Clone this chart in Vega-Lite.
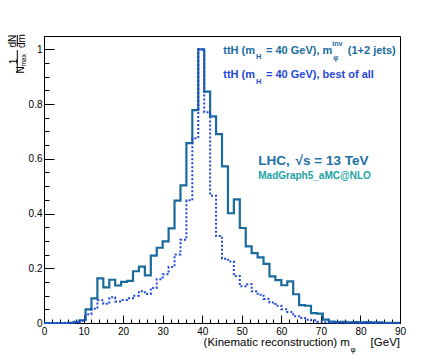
{
  "$schema": "https://vega.github.io/schema/vega-lite/v6.json",
  "width": 356,
  "height": 287,
  "autosize": "none",
  "padding": {"left": 44, "top": 36, "right": 46, "bottom": 37},
  "background": "white",
  "config": {
    "view": {"stroke": "black", "strokeWidth": 1},
    "axis": {"domainColor": "black", "tickColor": "black", "labelColor": "black", "labelFont": "Liberation Sans", "labelFontSize": 10, "grid": false, "title": null, "labelFlush": false, "labelOverlap": false}
  },
  "data": {
    "values": [
      {"m": 0, "comb": 0, "best": 0},
      {"m": 1.5, "comb": 0, "best": 0},
      {"m": 3, "comb": 0, "best": 0},
      {"m": 4.5, "comb": 0, "best": 0},
      {"m": 6, "comb": 0.001, "best": 0},
      {"m": 7.5, "comb": 0.004, "best": 0.002},
      {"m": 9, "comb": 0.01, "best": 0.008},
      {"m": 10.5, "comb": 0.05, "best": 0.032},
      {"m": 12, "comb": 0.09, "best": 0.052},
      {"m": 13.5, "comb": 0.163, "best": 0.083},
      {"m": 15, "comb": 0.13, "best": 0.07},
      {"m": 16.5, "comb": 0.158, "best": 0.094},
      {"m": 18, "comb": 0.137, "best": 0.079},
      {"m": 19.5, "comb": 0.15, "best": 0.084},
      {"m": 21, "comb": 0.154, "best": 0.09},
      {"m": 22.5, "comb": 0.189, "best": 0.1},
      {"m": 24, "comb": 0.206, "best": 0.116},
      {"m": 25.5, "comb": 0.174, "best": 0.106},
      {"m": 27, "comb": 0.246, "best": 0.128},
      {"m": 28.5, "comb": 0.275, "best": 0.16},
      {"m": 30, "comb": 0.298, "best": 0.178},
      {"m": 31.5, "comb": 0.346, "best": 0.205},
      {"m": 33, "comb": 0.447, "best": 0.25},
      {"m": 34.5, "comb": 0.503, "best": 0.304},
      {"m": 36, "comb": 0.657, "best": 0.448},
      {"m": 37.5, "comb": 0.778, "best": 0.675},
      {"m": 39, "comb": 1.0, "best": 1.0},
      {"m": 40.5, "comb": 0.845, "best": 0.77},
      {"m": 42, "comb": 0.755, "best": 0.465},
      {"m": 43.5, "comb": 0.69, "best": 0.318},
      {"m": 45, "comb": 0.572, "best": 0.235},
      {"m": 46.5, "comb": 0.401, "best": 0.225},
      {"m": 48, "comb": 0.452, "best": 0.172},
      {"m": 49.5, "comb": 0.347, "best": 0.134},
      {"m": 51, "comb": 0.28, "best": 0.142},
      {"m": 52.5, "comb": 0.255, "best": 0.116},
      {"m": 54, "comb": 0.24, "best": 0.103},
      {"m": 55.5, "comb": 0.216, "best": 0.088},
      {"m": 57, "comb": 0.17, "best": 0.075},
      {"m": 58.5, "comb": 0.157, "best": 0.063},
      {"m": 60, "comb": 0.138, "best": 0.05},
      {"m": 61.5, "comb": 0.152, "best": 0.04},
      {"m": 63, "comb": 0.105, "best": 0.025},
      {"m": 64.5, "comb": 0.065, "best": 0.018},
      {"m": 66, "comb": 0.063, "best": 0.012},
      {"m": 67.5, "comb": 0.036, "best": 0.01},
      {"m": 69, "comb": 0.034, "best": 0.005},
      {"m": 70.5, "comb": 0.012, "best": 0.003},
      {"m": 72, "comb": 0.005, "best": 0.002},
      {"m": 73.5, "comb": 0.003, "best": 0.001},
      {"m": 75, "comb": 0.004, "best": 0.001},
      {"m": 76.5, "comb": 0.002, "best": 0},
      {"m": 78, "comb": 0.003, "best": 0.001},
      {"m": 79.5, "comb": 0.002, "best": 0},
      {"m": 81, "comb": 0.003, "best": 0.001},
      {"m": 82.5, "comb": 0.002, "best": 0},
      {"m": 84, "comb": 0.002, "best": 0},
      {"m": 85.5, "comb": 0.001, "best": 0},
      {"m": 87, "comb": 0.001, "best": 0},
      {"m": 88.5, "comb": 0.001, "best": 0},
      {"m": 90, "comb": 0.001, "best": 0}
    ]
  },
  "resolve": {"axis": {"x": "independent", "y": "independent"}},
  "layer": [
    {
      "mark": {"type": "line", "interpolate": "step-after", "color": "#1a6b9c", "strokeWidth": 2.2},
      "encoding": {
        "x": {"field": "m", "type": "quantitative", "scale": {"domain": [0, 90], "nice": false, "zero": false},
          "axis": {"orient": "bottom", "values": [0, 10, 20, 30, 40, 50, 60, 70, 80, 90], "tickSize": -8, "labelPadding": 11}},
        "y": {"field": "comb", "type": "quantitative", "scale": {"domain": [0, 1.0485], "nice": false},
          "axis": {"orient": "left", "values": [0, 0.2, 0.4, 0.6, 0.8, 1], "format": "~g", "tickSize": -10, "labelPadding": 12}}
      }
    },
    {
      "mark": {"type": "line", "interpolate": "step-after", "color": "#1f48d8", "strokeWidth": 2, "strokeDash": [2, 2]},
      "encoding": {
        "x": {"field": "m", "type": "quantitative",
          "axis": {"orient": "bottom", "values": [2, 4, 6, 8, 12, 14, 16, 18, 22, 24, 26, 28, 32, 34, 36, 38, 42, 44, 46, 48, 52, 54, 56, 58, 62, 64, 66, 68, 72, 74, 76, 78, 82, 84, 86, 88], "tickSize": -4, "labels": false, "domain": false}},
        "y": {"field": "best", "type": "quantitative",
          "axis": {"orient": "left", "values": [0.05, 0.1, 0.15, 0.25, 0.3, 0.35, 0.45, 0.5, 0.55, 0.65, 0.7, 0.75, 0.85, 0.9, 0.95], "tickSize": -5, "labels": false, "domain": false}}
      }
    },
    {"data": {"values": [{}]}, "mark": {"type": "text", "text": "ttH (m", "font": "Liberation Sans", "fontWeight": "bold", "fontSize": 11, "color": "#1a6b9c", "align": "left", "baseline": "alphabetic", "clip": false},
      "encoding": {"x": {"datum": 45.32, "type": "quantitative", "axis": null}, "y": {"datum": 0.983, "type": "quantitative", "axis": null}}},
    {"data": {"values": [{}]}, "mark": {"type": "text", "text": "H", "font": "Liberation Sans", "fontWeight": "bold", "fontSize": 7.5, "color": "#1a6b9c", "align": "left", "baseline": "alphabetic", "clip": false},
      "encoding": {"x": {"datum": 53.59, "type": "quantitative", "axis": null}, "y": {"datum": 0.965, "type": "quantitative", "axis": null}}},
    {"data": {"values": [{}]}, "mark": {"type": "text", "text": "= 40 GeV), m", "font": "Liberation Sans", "fontWeight": "bold", "fontSize": 11, "color": "#1a6b9c", "align": "left", "baseline": "alphabetic", "clip": false},
      "encoding": {"x": {"datum": 56.12, "type": "quantitative", "axis": null}, "y": {"datum": 0.983, "type": "quantitative", "axis": null}}},
    {"data": {"values": [{}]}, "mark": {"type": "text", "text": "inv", "font": "Liberation Sans", "fontWeight": "bold", "fontSize": 7, "color": "#1a6b9c", "align": "left", "baseline": "alphabetic", "clip": false},
      "encoding": {"x": {"datum": 72.9, "type": "quantitative", "axis": null}, "y": {"datum": 1.012, "type": "quantitative", "axis": null}}},
    {"data": {"values": [{}]}, "mark": {"type": "text", "text": "φ", "font": "Liberation Sans", "fontWeight": "bold", "fontSize": 7, "color": "#1a6b9c", "align": "left", "baseline": "alphabetic", "clip": false},
      "encoding": {"x": {"datum": 73.1, "type": "quantitative", "axis": null}, "y": {"datum": 0.962, "type": "quantitative", "axis": null}}},
    {"data": {"values": [{}]}, "mark": {"type": "text", "text": "(1+2 jets)", "font": "Liberation Sans", "fontWeight": "bold", "fontSize": 11, "color": "#1a6b9c", "align": "left", "baseline": "alphabetic", "clip": false},
      "encoding": {"x": {"datum": 76.8, "type": "quantitative", "axis": null}, "y": {"datum": 0.983, "type": "quantitative", "axis": null}}},
    {"data": {"values": [{}]}, "mark": {"type": "text", "text": "ttH (m", "font": "Liberation Sans", "fontWeight": "bold", "fontSize": 11, "color": "#1f48d8", "align": "left", "baseline": "alphabetic", "clip": false},
      "encoding": {"x": {"datum": 45.32, "type": "quantitative", "axis": null}, "y": {"datum": 0.894, "type": "quantitative", "axis": null}}},
    {"data": {"values": [{}]}, "mark": {"type": "text", "text": "H", "font": "Liberation Sans", "fontWeight": "bold", "fontSize": 7.5, "color": "#1f48d8", "align": "left", "baseline": "alphabetic", "clip": false},
      "encoding": {"x": {"datum": 53.59, "type": "quantitative", "axis": null}, "y": {"datum": 0.874, "type": "quantitative", "axis": null}}},
    {"data": {"values": [{}]}, "mark": {"type": "text", "text": "= 40 GeV), best of all", "font": "Liberation Sans", "fontWeight": "bold", "fontSize": 11, "color": "#1f48d8", "align": "left", "baseline": "alphabetic", "clip": false},
      "encoding": {"x": {"datum": 56.12, "type": "quantitative", "axis": null}, "y": {"datum": 0.894, "type": "quantitative", "axis": null}}},
    {"data": {"values": [{}]}, "mark": {"type": "text", "text": "LHC,", "font": "Liberation Sans", "fontWeight": "bold", "fontSize": 13.5, "color": "#2170a4", "align": "left", "baseline": "alphabetic", "clip": false},
      "encoding": {"x": {"datum": 54.17, "type": "quantitative", "axis": null}, "y": {"datum": 0.578, "type": "quantitative", "axis": null}}},
    {"data": {"values": [{}]}, "mark": {"type": "text", "text": "√s = 13 TeV", "font": "Liberation Sans", "fontWeight": "bold", "fontSize": 13.5, "color": "#2170a4", "align": "left", "baseline": "alphabetic", "clip": false},
      "encoding": {"x": {"datum": 63.6, "type": "quantitative", "axis": null}, "y": {"datum": 0.578, "type": "quantitative", "axis": null}}},
    {"data": {"values": [{}]}, "mark": {"type": "text", "text": "MadGraph5_aMC@NLO", "font": "Liberation Sans", "fontWeight": "bold", "fontSize": 10, "color": "#1aa3a3", "align": "left", "baseline": "alphabetic", "clip": false},
      "encoding": {"x": {"datum": 54.17, "type": "quantitative", "axis": null}, "y": {"datum": 0.526, "type": "quantitative", "axis": null}}},
    {"data": {"values": [{}]}, "mark": {"type": "text", "text": "(Kinematic reconstruction) m", "font": "Liberation Sans", "fontSize": 11.5, "color": "black", "align": "right", "baseline": "alphabetic", "clip": false},
      "encoding": {"x": {"datum": 77.35, "type": "quantitative", "axis": null}, "y": {"datum": -0.083, "type": "quantitative", "axis": null}}},
    {"data": {"values": [{}]}, "mark": {"type": "text", "text": "φ", "font": "Liberation Sans", "fontSize": 8, "color": "black", "align": "left", "baseline": "alphabetic", "clip": false},
      "encoding": {"x": {"datum": 77.5, "type": "quantitative", "axis": null}, "y": {"datum": -0.105, "type": "quantitative", "axis": null}}},
    {"data": {"values": [{}]}, "mark": {"type": "text", "text": "[GeV]", "font": "Liberation Sans", "fontSize": 11.5, "color": "black", "align": "right", "baseline": "alphabetic", "clip": false},
      "encoding": {"x": {"datum": 90, "type": "quantitative", "axis": null}, "y": {"datum": -0.083, "type": "quantitative", "axis": null}}},
    {"data": {"values": [{}]}, "mark": {"type": "text", "text": "1", "font": "Liberation Sans", "fontSize": 10, "color": "black", "align": "center", "baseline": "middle", "angle": 270, "clip": false},
      "encoding": {"x": {"datum": -7.6, "type": "quantitative", "axis": null}, "y": {"datum": 0.955, "type": "quantitative", "axis": null}}},
    {"data": {"values": [{}]}, "mark": {"type": "text", "text": "N", "font": "Liberation Sans", "fontSize": 10, "color": "black", "align": "center", "baseline": "middle", "angle": 270, "clip": false},
      "encoding": {"x": {"datum": -5.7, "type": "quantitative", "axis": null}, "y": {"datum": 0.925, "type": "quantitative", "axis": null}}},
    {"data": {"values": [{}]}, "mark": {"type": "text", "text": "max", "font": "Liberation Sans", "fontSize": 6.5, "color": "black", "align": "center", "baseline": "middle", "angle": 270, "clip": false},
      "encoding": {"x": {"datum": -4.95, "type": "quantitative", "axis": null}, "y": {"datum": 0.96, "type": "quantitative", "axis": null}}},
    {"data": {"values": [{}]}, "mark": {"type": "text", "text": "dN", "font": "Liberation Sans", "fontSize": 10, "color": "black", "align": "center", "baseline": "middle", "angle": 270, "clip": false},
      "encoding": {"x": {"datum": -7.9, "type": "quantitative", "axis": null}, "y": {"datum": 1.03, "type": "quantitative", "axis": null}}},
    {"data": {"values": [{}]}, "mark": {"type": "text", "text": "dm", "font": "Liberation Sans", "fontSize": 10, "color": "black", "align": "center", "baseline": "middle", "angle": 270, "clip": false},
      "encoding": {"x": {"datum": -5.6, "type": "quantitative", "axis": null}, "y": {"datum": 1.03, "type": "quantitative", "axis": null}}},
    {"data": {"values": [{}]}, "mark": {"type": "rule", "color": "black", "strokeWidth": 1, "clip": false},
      "encoding": {"x": {"datum": -6.75, "type": "quantitative", "axis": null}, "y": {"datum": 0.913, "type": "quantitative", "axis": null}, "y2": {"datum": 0.997}}},
    {"data": {"values": [{}]}, "mark": {"type": "rule", "color": "black", "strokeWidth": 1, "clip": false},
      "encoding": {"x": {"datum": -6.75, "type": "quantitative", "axis": null}, "y": {"datum": 1.009, "type": "quantitative", "axis": null}, "y2": {"datum": 1.052}}}
  ]
}
